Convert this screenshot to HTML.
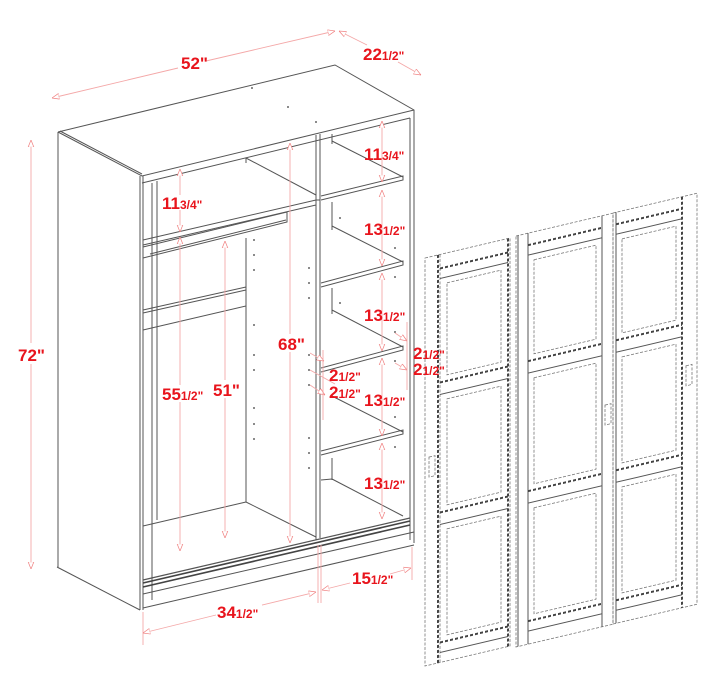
<!DOCTYPE html>
<html><head><meta charset="utf-8"><style>
html,body{margin:0;padding:0;background:#fff;width:720px;height:694px;overflow:hidden}
svg{display:block}
.l{stroke:#555;stroke-width:1;fill:none}
.t{stroke:#444;stroke-width:1.6;fill:none}
.d{stroke:#f4a8a8;stroke-width:0.9;fill:none}
.lab{font-family:"Liberation Sans",sans-serif;font-weight:bold;fill:#e8141c}
.big{font-size:17px}
.sm{font-size:12px}
.ds{stroke:#777;stroke-width:0.8;fill:none;stroke-dasharray:3 1.5}
.dk{stroke:#444;stroke-width:2;fill:none;stroke-dasharray:3 2}
.dot{fill:#666}
</style></head><body>
<svg width="720" height="694" viewBox="0 0 720 694" xmlns="http://www.w3.org/2000/svg">
<defs>
<marker id="a" viewBox="0 0 10 10" refX="10" refY="5" markerWidth="8" markerHeight="8" orient="auto-start-reverse"><path d="M0,1 L10,5 L0,9 Z" fill="#fff" stroke="#f08080" stroke-width="1"/></marker>
</defs>
<g class="l">
<polyline points="58,132 335,65 414,110 414,543"/>
<polyline points="58,132 142,176 414,110"/>
<line x1="60" y1="131" x2="142" y2="174"/>
<line x1="58" y1="132" x2="58" y2="567"/>
<line x1="57" y1="567" x2="140" y2="610"/>
<line x1="140" y1="176" x2="140" y2="610"/>
<line x1="143" y1="176" x2="143" y2="610"/>
<line x1="410" y1="118" x2="410" y2="540"/>
<line x1="142" y1="183" x2="410" y2="118"/>
<line x1="143" y1="608" x2="414" y2="545"/>
<line x1="143" y1="594" x2="414" y2="532"/>
<line x1="316" y1="135" x2="316" y2="540"/>
<line x1="320" y1="134" x2="320" y2="538"/>
<line x1="246" y1="158" x2="316" y2="195"/>
<line x1="246" y1="158" x2="246" y2="163"/>
<line x1="246" y1="238" x2="246" y2="502"/>
<line x1="143" y1="526" x2="246" y2="502"/>
<line x1="246" y1="502" x2="316" y2="537"/>
<line x1="152" y1="183" x2="152" y2="600"/>
<line x1="157" y1="181" x2="157" y2="520"/>
<polyline points="143,240 316,200 320,200"/>
<line x1="143" y1="245" x2="316" y2="205"/>
<polyline points="143,258 287,222 287,212 143,247"/>
<line x1="150" y1="254" x2="286" y2="220"/>
<polyline points="143,310 246,287 246,306 143,330"/>
<line x1="143" y1="313" x2="246" y2="290"/>
<polyline points="321,200 403,180 403,176 321,196"/>
<line x1="332" y1="141" x2="403" y2="177"/>
<line x1="332" y1="134" x2="332" y2="144"/>
<polyline points="321,287 403,265 403,261 321,283"/>
<line x1="332" y1="226" x2="403" y2="262"/>
<line x1="332" y1="202" x2="332" y2="230"/>
<polyline points="321,372 403,350 403,346 321,368"/>
<line x1="332" y1="310" x2="403" y2="347"/>
<line x1="332" y1="288" x2="332" y2="314"/>
<polyline points="321,455 403,434 403,430 321,451"/>
<line x1="332" y1="396" x2="403" y2="432"/>
<line x1="332" y1="458" x2="332" y2="480"/>
<line x1="321" y1="480" x2="332" y2="479"/>
<line x1="332" y1="479" x2="403" y2="516"/>
</g>
<g class="t"><line x1="143" y1="583" x2="410" y2="521"/><line x1="143" y1="587" x2="410" y2="525"/></g>
<line x1="143" y1="580" x2="410" y2="518" stroke="#555" stroke-width="1.2"/>
<g class="dot">
<circle cx="252" cy="88" r="1"/><circle cx="288" cy="107" r="1"/><circle cx="316" cy="122" r="1"/>
<circle cx="254" cy="240" r="1"/><circle cx="254" cy="255" r="1"/><circle cx="254" cy="270" r="1"/>
<circle cx="254" cy="325" r="1"/><circle cx="254" cy="355" r="1"/><circle cx="254" cy="370" r="1"/>
<circle cx="254" cy="408" r="1"/><circle cx="254" cy="424" r="1"/><circle cx="254" cy="439" r="1"/>
<circle cx="309" cy="268" r="1"/><circle cx="309" cy="283" r="1"/><circle cx="309" cy="298" r="1"/>
<circle cx="309" cy="355" r="1"/><circle cx="309" cy="370" r="1"/><circle cx="309" cy="385" r="1"/>
<circle cx="309" cy="438" r="1"/><circle cx="309" cy="453" r="1"/><circle cx="309" cy="468" r="1"/>
<circle cx="340" cy="218" r="1"/><circle cx="395" cy="248" r="1"/><circle cx="340" cy="303" r="1"/><circle cx="395" cy="277" r="1"/>
<circle cx="395" cy="332" r="1"/><circle cx="395" cy="361" r="1"/><circle cx="395" cy="417" r="1"/><circle cx="395" cy="447" r="1"/>
</g>
<g transform="translate(425,258) skewY(-13.24)">
<rect x="0" y="0" width="85" height="408" class="ds"/>
<line x1="15" y1="0" x2="15" y2="408" class="ds"/>
<line x1="13" y1="0" x2="13" y2="408" class="dk" stroke-width="1.2"/>
<line x1="83" y1="0" x2="83" y2="408" class="dk" stroke-width="1.6"/>
<g class="dk"><line x1="15" y1="14" x2="83" y2="14"/><line x1="15" y1="128" x2="83" y2="128"/><line x1="15" y1="258" x2="83" y2="258"/><line x1="15" y1="388" x2="83" y2="388"/></g>
<g class="l"><line x1="15" y1="24" x2="83" y2="24"/><line x1="15" y1="140" x2="83" y2="140"/><line x1="15" y1="270" x2="83" y2="270"/><line x1="15" y1="398" x2="83" y2="398"/></g>
<g class="ds"><rect x="22" y="30" width="54" height="92"/><rect x="22" y="146" width="54" height="106"/><rect x="22" y="276" width="54" height="106"/></g>
<rect x="4" y="200" width="6" height="20" class="ds"/>
</g>
<g transform="translate(516,236) skewY(-13.24)">
<rect x="0" y="0" width="97" height="411" class="ds"/>
<line x1="12" y1="0" x2="12" y2="411" class="l"/>
<line x1="86" y1="0" x2="86" y2="411" class="l"/>
<line x1="2" y1="0" x2="2" y2="411" class="l"/>
<g class="dk"><line x1="12" y1="12" x2="86" y2="12"/><line x1="12" y1="128" x2="86" y2="128"/><line x1="12" y1="258" x2="86" y2="258"/><line x1="12" y1="388" x2="86" y2="388"/></g>
<g class="l"><line x1="12" y1="22" x2="86" y2="22"/><line x1="12" y1="140" x2="86" y2="140"/><line x1="12" y1="270" x2="86" y2="270"/><line x1="12" y1="398" x2="86" y2="398"/></g>
<g class="ds"><rect x="18" y="28" width="62" height="94"/><rect x="18" y="146" width="62" height="106"/><rect x="18" y="276" width="62" height="106"/></g>
<rect x="89" y="190" width="6" height="20" class="ds"/>
</g>
<g transform="translate(613,213) skewY(-13.24)">
<rect x="0" y="0" width="84" height="411" class="ds"/>
<line x1="3" y1="0" x2="3" y2="411" class="l"/>
<line x1="69" y1="0" x2="69" y2="411" class="dk" stroke-width="1.6"/>
<g class="dk"><line x1="3" y1="12" x2="69" y2="12"/><line x1="3" y1="128" x2="69" y2="128"/><line x1="3" y1="258" x2="69" y2="258"/><line x1="3" y1="388" x2="69" y2="388"/></g>
<g class="l"><line x1="3" y1="22" x2="69" y2="22"/><line x1="3" y1="140" x2="69" y2="140"/><line x1="3" y1="270" x2="69" y2="270"/><line x1="3" y1="398" x2="69" y2="398"/></g>
<g class="ds"><rect x="9" y="28" width="54" height="94"/><rect x="9" y="146" width="54" height="106"/><rect x="9" y="276" width="54" height="106"/></g>
<rect x="73" y="170" width="6" height="20" class="ds"/>
</g>
<g class="d">
<line x1="52" y1="98" x2="178" y2="68" marker-start="url(#a)"/>
<line x1="206" y1="61" x2="335" y2="31" marker-end="url(#a)"/>
<line x1="339" y1="31" x2="367" y2="45" marker-start="url(#a)"/>
<line x1="398" y1="62" x2="421" y2="75" marker-end="url(#a)"/>
<line x1="31" y1="140" x2="31" y2="343" marker-start="url(#a)"/>
<line x1="31" y1="364" x2="31" y2="569" marker-end="url(#a)"/>
<line x1="180" y1="169" x2="180" y2="195" marker-start="url(#a)"/>
<line x1="180" y1="210" x2="180" y2="232" marker-end="url(#a)"/>
<line x1="180" y1="237" x2="180" y2="385" marker-start="url(#a)"/>
<line x1="180" y1="402" x2="180" y2="551" marker-end="url(#a)"/>
<line x1="225" y1="241" x2="225" y2="380" marker-start="url(#a)"/>
<line x1="225" y1="398" x2="225" y2="538" marker-end="url(#a)"/>
<line x1="290" y1="143" x2="290" y2="334" marker-start="url(#a)"/>
<line x1="290" y1="352" x2="290" y2="543" marker-end="url(#a)"/>
<line x1="382" y1="121" x2="382" y2="182" marker-start="url(#a)" marker-end="url(#a)"/>
<line x1="382" y1="190" x2="382" y2="266" marker-start="url(#a)" marker-end="url(#a)"/>
<line x1="382" y1="273" x2="382" y2="351" marker-start="url(#a)" marker-end="url(#a)"/>
<line x1="382" y1="358" x2="382" y2="436" marker-start="url(#a)" marker-end="url(#a)"/>
<line x1="382" y1="443" x2="382" y2="519" marker-start="url(#a)" marker-end="url(#a)"/>
<line x1="143" y1="612" x2="143" y2="645"/>
<line x1="318" y1="545" x2="318" y2="603"/><line x1="321" y1="545" x2="321" y2="603"/>
<line x1="412" y1="547" x2="412" y2="580"/>
<line x1="143" y1="633" x2="216" y2="615" marker-start="url(#a)"/>
<line x1="262" y1="605" x2="316" y2="592" marker-end="url(#a)"/>
<line x1="322" y1="590" x2="350" y2="583" marker-start="url(#a)"/>
<line x1="390" y1="574" x2="411" y2="568" marker-end="url(#a)"/>
<line x1="310" y1="353" x2="324" y2="361" marker-end="url(#a)"/>
<line x1="310" y1="370" x2="335" y2="384"/>
<line x1="310" y1="385" x2="325" y2="395" marker-end="url(#a)"/>
<line x1="323" y1="350" x2="323" y2="420"/>
<line x1="395" y1="333" x2="407" y2="341" marker-end="url(#a)"/>
<line x1="395" y1="363" x2="407" y2="370" marker-end="url(#a)"/>
<line x1="407" y1="322" x2="407" y2="390"/>
</g>
<g class="lab">
<text x="181" y="69"><tspan class="big">52"</tspan></text>
<text x="363" y="60"><tspan class="big">22</tspan><tspan class="sm">1/2"</tspan></text>
<text x="18" y="361"><tspan class="big">72"</tspan></text>
<text x="162" y="209"><tspan class="big">11</tspan><tspan class="sm">3/4"</tspan></text>
<text x="364" y="160"><tspan class="big">11</tspan><tspan class="sm">3/4"</tspan></text>
<text x="364" y="235"><tspan class="big">13</tspan><tspan class="sm">1/2"</tspan></text>
<text x="364" y="321"><tspan class="big">13</tspan><tspan class="sm">1/2"</tspan></text>
<text x="364" y="406"><tspan class="big">13</tspan><tspan class="sm">1/2"</tspan></text>
<text x="364" y="489"><tspan class="big">13</tspan><tspan class="sm">1/2"</tspan></text>
<text x="278" y="350"><tspan class="big">68"</tspan></text>
<text x="162" y="400"><tspan class="big">55</tspan><tspan class="sm">1/2"</tspan></text>
<text x="213" y="396"><tspan class="big">51"</tspan></text>
<text x="329" y="381"><tspan class="big">2</tspan><tspan class="sm">1/2"</tspan></text>
<text x="329" y="398"><tspan class="big">2</tspan><tspan class="sm">1/2"</tspan></text>
<text x="413" y="359"><tspan class="big">2</tspan><tspan class="sm">1/2"</tspan></text>
<text x="413" y="375"><tspan class="big">2</tspan><tspan class="sm">1/2"</tspan></text>
<text x="217" y="618"><tspan class="big">34</tspan><tspan class="sm">1/2"</tspan></text>
<text x="352" y="584"><tspan class="big">15</tspan><tspan class="sm">1/2"</tspan></text>
</g>
</svg>
</body></html>
